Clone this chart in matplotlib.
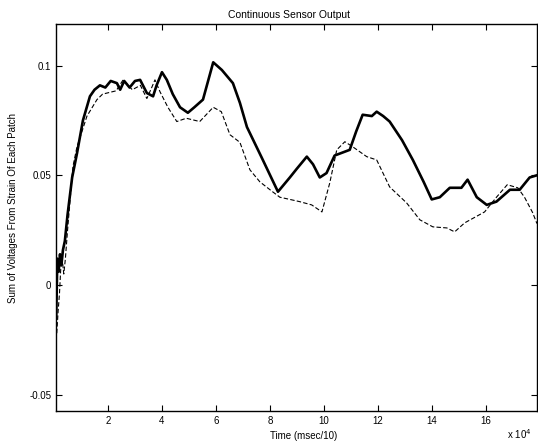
import matplotlib
matplotlib.use("Agg")
import matplotlib.pyplot as plt

plt.rcParams['font.family'] = ['Liberation Sans', 'DejaVu Sans']

# solid trace (x in units of 1e4)
solid_x = [0.08, 0.12, 0.17, 0.22, 0.27, 0.33, 0.4, 0.5, 0.67, 0.85, 1.07, 1.33, 1.5, 1.7,
           1.9, 2.1, 2.33, 2.45, 2.6, 2.8, 3.0, 3.19, 3.44, 3.67, 3.8, 4.0, 4.18, 4.4,
           4.67, 4.96, 5.2, 5.52, 5.9, 6.22, 6.63, 6.89, 7.15, 7.7, 8.3, 8.74, 9.0,
           9.37, 9.6, 9.85, 10.1, 10.4, 10.96, 11.2, 11.44, 11.78, 11.96, 12.2, 12.44,
           12.9, 13.3, 13.7, 14.0, 14.3, 14.67, 15.1, 15.33, 15.67, 16.04, 16.4, 16.9,
           17.26, 17.63, 17.9]
solid_y = [-0.015, 0.012, 0.006, 0.014, 0.009, 0.016, 0.02, 0.032, 0.049, 0.06, 0.075, 0.086,
           0.089, 0.091, 0.09, 0.093, 0.092, 0.089, 0.093, 0.09, 0.093, 0.0935, 0.0875, 0.086,
           0.091, 0.097, 0.0935, 0.087, 0.081, 0.0785, 0.081, 0.0845, 0.1015, 0.098, 0.092,
           0.083, 0.072, 0.058, 0.0425, 0.049, 0.053, 0.0585, 0.055, 0.049, 0.051, 0.059,
           0.0616, 0.07, 0.0776, 0.077, 0.079, 0.077, 0.0745, 0.066, 0.057, 0.047, 0.039,
           0.040, 0.0443, 0.0443, 0.048, 0.040, 0.0365, 0.038, 0.0434, 0.0434, 0.049, 0.05]

# dashed trace
dash_x = [0.1, 0.15, 0.2, 0.25, 0.3, 0.36, 0.42, 0.5, 0.7, 0.85, 1.22, 1.59, 1.8, 2.3,
          2.56, 2.9, 3.2, 3.44, 3.62, 3.74, 3.93, 4.22, 4.55, 4.9, 5.4, 5.9, 6.2, 6.52,
          6.89, 7.26, 7.63, 8.1, 8.37, 8.74, 9.1, 9.55, 9.93, 10.22, 10.48, 10.78, 11.07,
          11.59, 11.96, 12.44, 13.07, 13.56, 14.04, 14.56, 14.85, 15.22, 15.96, 16.4,
          16.8, 17.19, 17.44, 17.74, 17.9]
dash_y = [-0.022, -0.012, -0.004, 0.008, 0.012, 0.005, 0.012, 0.025, 0.054, 0.063, 0.077,
          0.0845, 0.087, 0.0885, 0.0935, 0.089, 0.091, 0.085, 0.09, 0.0935, 0.088, 0.081,
          0.0745, 0.076, 0.0745, 0.081, 0.079, 0.0685, 0.065, 0.0525, 0.047, 0.0425, 0.040,
          0.039, 0.038, 0.0365, 0.0333, 0.0465, 0.0616, 0.0653, 0.063, 0.0585, 0.057,
          0.0447, 0.0374, 0.0297, 0.0265, 0.026, 0.0242, 0.0283, 0.0333, 0.040, 0.0457,
          0.0443, 0.040, 0.033, 0.028]

x_ticks = [2, 4, 6, 8, 10, 12, 14, 16]
y_ticks = [-0.05, 0, 0.05, 0.1]
y_labels = ['-0.05', '0', '0.05', '0.1']

fig = plt.figure(figsize=(5.38, 4.43), dpi=100)
ax = fig.add_axes([0.104, 0.072, 0.894, 0.874])

ax.plot(solid_x, solid_y, color='black', lw=1.9)
ax.plot(dash_x, dash_y, color='black', lw=0.8, linestyle=(0, (4, 2)))

ax.set_xlim(0.07, 17.9)
ax.set_ylim(-0.0575, 0.119)
ax.set_xticks(x_ticks)
ax.set_xticklabels([str(t) for t in x_ticks])
ax.set_yticks(y_ticks)
ax.set_yticklabels(y_labels)
ax.tick_params(direction='in', top=True, right=True, labelsize=7, length=4, width=0.8)
for s in ax.spines.values():
    s.set_linewidth(1.0)

ax.set_title('Continuous Sensor Output', fontsize=7.5, pad=4, x=0.485)
ax.set_xlabel('Time (msec/10)', fontsize=7)
ax.xaxis.set_label_coords(0.515, -0.052)
ax.set_ylabel('Sum of Voltages From Strain Of Each Patch', fontsize=7)
ax.yaxis.set_label_coords(-0.078, 0.525)
fig.text(0.943, 0.008, 'x 10$^4$', fontsize=7)

fig.savefig('out.png', dpi=100)
